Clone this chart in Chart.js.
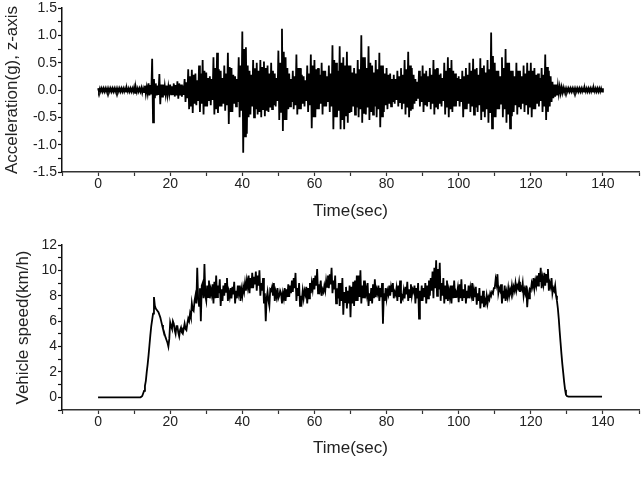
<!DOCTYPE html>
<html>
<head>
<meta charset="utf-8">
<script src="https://cdn.jsdelivr.net/npm/chart.js@4"></script>
<style>
  html, body { margin: 0; padding: 0; background: #fff; }
  #wrap { position: relative; width: 644px; height: 480px; }
  canvas { position: absolute; left: 0; }
  #acc-chart { top: 0; }
  #speed-chart { top: 230px; }
</style>
</head>
<body>
<div id="wrap">
  <canvas id="acc-chart" width="644" height="230"></canvas>
  <canvas id="speed-chart" width="644" height="250"></canvas>
</div>
<script>
/* sampling: four values per second (0.25 s), from 0 s to 140 s */
const sampleStep = 0.25;

/* z-axis acceleration (g); one line = one second */
const accel = [
  0.03,-0.03,0.03,-0.03, 0.03,-0.03,0.03,-0.03, 0.03,-0.03,0.03,-0.03, 0.03,-0.03,0.03,-0.03, // 0-3
  0.03,-0.03,0.03,-0.03, 0.03,-0.03,0.03,-0.03, 0.03,-0.03,0.03,-0.03, 0.03,-0.03,0.03,-0.03, // 4-7
  0.03,-0.03,0.03,-0.03, 0.03,-0.03,0.03,-0.03, 0.05,-0.05,0.04,-0.04, 0.03,-0.03,0.03,-0.03, // 8-11
  0.04,-0.05,0.03,-0.04,  // 12
  0.08,-0.07,0.05,-0.06,  // 13
  0.12,-0.10,0.09,-0.08,  // 14
  0.57,-0.59,0.20,-0.15,  // 15
  0.12,-0.10,0.08,-0.09,  // 16
  0.29,-0.26,0.10,-0.12,  // 17
  0.10,-0.10,0.07,-0.08,  // 18
  0.08,-0.09,0.06,-0.07,  // 19
  0.10,-0.08,0.07,-0.09,  // 20
  0.12,-0.12,0.09,-0.10,  // 21
  0.16,-0.16,0.12,-0.10,  // 22
  0.10,-0.12,0.08,-0.09,  // 23
  0.20,-0.22,0.14,-0.15,  // 24
  0.38,-0.35,0.25,-0.30,  // 25
  0.37,-0.42,0.28,-0.25,  // 26
  0.30,-0.28,0.18,-0.20,  // 27
  0.45,-0.40,0.30,-0.25,  // 28
  0.55,-0.45,0.35,-0.30,  // 29
  0.32,-0.30,0.22,-0.20,  // 30
  0.25,-0.28,0.20,-0.18,  // 31
  0.60,-0.45,0.40,-0.35,  // 32
  0.68,-0.42,0.38,-0.30,  // 33
  0.35,-0.30,0.22,-0.25,  // 34
  0.45,-0.38,0.30,-0.28,  // 35
  0.68,-0.62,0.42,-0.40,  // 36
  0.40,-0.40,0.28,-0.25,  // 37
  0.25,-0.30,0.20,-0.22,  // 38
  0.60,-0.50,0.45,-0.38,  // 39
  1.07,-1.15,0.75,-0.85,  // 40
  0.78,-0.80,0.45,-0.50,  // 41
  0.35,-0.45,0.28,-0.30,  // 42
  0.55,-0.50,0.40,-0.35,  // 43
  0.50,-0.45,0.35,-0.40,  // 44
  0.55,-0.50,0.42,-0.35,  // 45
  0.52,-0.48,0.40,-0.38,  // 46
  0.45,-0.40,0.30,-0.32,  // 47
  0.50,-0.35,0.35,-0.28,  // 48
  0.30,-0.30,0.22,-0.20,  // 49
  0.72,-0.55,0.50,-0.40,  // 50
  1.12,-0.75,0.70,-0.55,  // 51
  0.60,-0.55,0.40,-0.35,  // 52
  0.30,-0.30,0.20,-0.22,  // 53
  0.35,-0.35,0.25,-0.28,  // 54
  0.65,-0.45,0.40,-0.35,  // 55
  0.40,-0.35,0.28,-0.25,  // 56
  0.25,-0.30,0.18,-0.20,  // 57
  0.45,-0.40,0.30,-0.28,  // 58
  0.65,-0.70,0.45,-0.50,  // 59
  0.55,-0.50,0.38,-0.35,  // 60
  0.40,-0.35,0.28,-0.25,  // 61
  0.50,-0.45,0.35,-0.30,  // 62
  0.35,-0.30,0.25,-0.22,  // 63
  0.45,-0.40,0.30,-0.30,  // 64
  0.82,-0.72,0.55,-0.50,  // 65
  0.50,-0.50,0.35,-0.38,  // 66
  0.80,-0.72,0.50,-0.55,  // 67
  0.60,-0.72,0.45,-0.48,  // 68
  0.70,-0.60,0.45,-0.42,  // 69
  0.45,-0.40,0.32,-0.30,  // 70
  0.40,-0.45,0.30,-0.32,  // 71
  0.55,-0.50,0.38,-0.35,  // 72
  1.00,-0.60,0.60,-0.42,  // 73
  0.60,-0.45,0.40,-0.32,  // 74
  0.80,-0.55,0.50,-0.40,  // 75
  0.45,-0.45,0.32,-0.30,  // 76
  0.55,-0.50,0.38,-0.35,  // 77
  0.68,-0.68,0.45,-0.48,  // 78
  0.45,-0.40,0.30,-0.28,  // 79
  0.40,-0.35,0.28,-0.25,  // 80
  0.30,-0.30,0.20,-0.22,  // 81
  0.28,-0.25,0.20,-0.18,  // 82
  0.35,-0.30,0.25,-0.22,  // 83
  0.40,-0.35,0.28,-0.25,  // 84
  0.55,-0.45,0.38,-0.32,  // 85
  0.70,-0.50,0.45,-0.38,  // 86
  0.40,-0.35,0.28,-0.25,  // 87
  0.20,-0.20,0.15,-0.16,  // 88
  0.35,-0.30,0.25,-0.22,  // 89
  0.45,-0.40,0.30,-0.28,  // 90
  0.35,-0.30,0.25,-0.22,  // 91
  0.40,-0.35,0.28,-0.25,  // 92
  0.55,-0.45,0.38,-0.32,  // 93
  0.40,-0.35,0.28,-0.25,  // 94
  0.30,-0.30,0.22,-0.20,  // 95
  0.50,-0.45,0.35,-0.32,  // 96
  0.60,-0.50,0.40,-0.35,  // 97
  0.55,-0.40,0.35,-0.30,  // 98
  0.30,-0.30,0.22,-0.20,  // 99
  0.25,-0.30,0.20,-0.22,  // 100
  0.35,-0.50,0.25,-0.35,  // 101
  0.40,-0.35,0.28,-0.25,  // 102
  0.50,-0.40,0.35,-0.30,  // 103
  0.57,-0.45,0.38,-0.32,  // 104
  0.40,-0.40,0.28,-0.28,  // 105
  0.58,-0.55,0.40,-0.38,  // 106
  0.45,-0.50,0.32,-0.35,  // 107
  0.55,-0.60,0.38,-0.42,  // 108
  1.05,-0.70,0.62,-0.50,  // 109
  0.50,-0.50,0.35,-0.35,  // 110
  0.35,-0.35,0.25,-0.25,  // 111
  0.60,-0.50,0.40,-0.35,  // 112
  0.75,-0.60,0.50,-0.45,  // 113
  0.50,-0.70,0.35,-0.48,  // 114
  0.35,-0.40,0.25,-0.28,  // 115
  0.50,-0.45,0.35,-0.30,  // 116
  0.35,-0.35,0.25,-0.25,  // 117
  0.45,-0.40,0.30,-0.28,  // 118
  0.50,-0.45,0.35,-0.32,  // 119
  0.50,-0.50,0.35,-0.35,  // 120
  0.40,-0.35,0.28,-0.25,  // 121
  0.30,-0.30,0.22,-0.20,  // 122
  0.40,-0.40,0.28,-0.30,  // 123
  0.65,-0.55,0.42,-0.40,  // 124
  0.35,-0.30,0.25,-0.22,  // 125
  0.15,-0.15,0.10,-0.12,  // 126
  0.10,-0.10,0.08,-0.07,  // 127
  0.06,-0.06,0.05,-0.05,  // 128
  0.04,-0.04,0.03,-0.03,  // 129
  0.03,-0.03,0.03,-0.03, 0.03,-0.03,0.03,-0.03, 0.03,-0.03,0.03,-0.03, 0.03,-0.03,0.03,-0.03, // 130-133
  0.03,-0.03,0.03,-0.03, 0.03,-0.03,0.03,-0.03, 0.03,-0.03,0.03,-0.03, 0.03,-0.03,0.03,-0.03, // 134-137
  0.03,-0.03,0.03,-0.03, 0.03,-0.03,0.03,-0.03, // 138-139
  0.03                                          // 140
];

/* vehicle speed (km/h); one line = one second */
const speed = [
  0,0,0,0, 0,0,0,0, 0,0,0,0, 0,0,0,0, 0,0,0,0, 0,0,0,0,   // 0-5
  0,0,0,0, 0,0,0,0, 0,0,0,0, 0,0,0,0, 0,0,0,0, 0,0,0,0,   // 6-11
  0.05,0.1,0.3,0.5,   // 12
  0.9,1.3,2.0,2.6,    // 13
  3.3,4.1,4.9,5.6,    // 14
  6.1,6.6,7.9,7.2,    // 15
  7.0,6.9,6.8,6.7,    // 16
  6.5,6.3,6.0,5.7,    // 17
  5.4,5.2,4.9,4.7,    // 18
  4.5,4.3,4.0,4.6,    // 19
  5.9,5.6,5.4,6.0,    // 20
  5.8,5.3,5.0,5.6,    // 21
  5.6,5.1,4.8,5.3,    // 22
  5.5,5.1,5.0,5.4,    // 23
  5.8,5.4,5.3,5.8,    // 24
  6.2,6.0,6.6,6.3,    // 25
  7.4,6.9,6.8,7.6,    // 26
  8.0,7.4,10.2,7.8,   // 27
  7.2,8.6,6.0,8.8,    // 28
  9.0,7.8,10.5,8.0,   // 29
  7.6,8.8,7.9,9.2,    // 30
  7.8,8.5,8.1,8.9,    // 31
  7.4,9.1,7.8,9.6,    // 32
  7.9,8.8,8.2,9.3,    // 33
  7.2,8.5,7.6,8.8,    // 34
  8.0,9.0,8.3,9.4,    // 35
  7.6,8.3,7.9,8.6,    // 36
  7.8,8.7,8.1,9.1,    // 37
  7.4,8.4,7.8,8.8,    // 38
  8.2,8.8,7.6,8.5,    // 39
  8.0,8.7,8.3,9.0,    // 40
  8.4,9.2,8.7,9.6,    // 41
  8.2,9.4,8.6,9.8,    // 42
  8.6,9.5,8.9,9.9,    // 43
  8.4,9.6,8.8,10.0,   // 44
  8.0,9.0,8.4,9.4,    // 45
  7.4,8.2,6.0,7.8,    // 46
  8.3,7.6,7.2,8.5,    // 47
  8.4,8.7,8.0,9.0,    // 48
  7.6,8.3,7.9,8.6,    // 49
  7.8,8.0,8.4,8.2,    // 50
  7.4,8.2,7.8,8.6,    // 51
  7.6,8.5,7.9,8.9,    // 52
  7.9,8.8,8.2,9.2,    // 53
  8.3,9.4,8.6,9.8,    // 54
  7.6,8.6,8.0,9.0,    // 55
  7.2,8.0,7.6,8.4,    // 56
  7.8,8.4,8.1,8.7,    // 57
  7.4,8.6,7.8,9.0,    // 58
  8.2,9.0,8.5,9.4,    // 59
  8.5,9.6,8.8,10.1,   // 60
  8.2,8.9,8.5,9.2,    // 61
  8.0,8.5,8.3,8.8,    // 62
  8.4,9.2,8.7,9.6,    // 63
  8.6,9.7,8.9,10.2,   // 64
  8.2,9.2,8.5,9.6,    // 65
  7.4,8.6,7.8,9.0,    // 66
  7.2,9.0,7.6,9.4,    // 67
  6.5,8.3,7.5,8.7,    // 68
  7.0,8.4,7.4,8.8,    // 69
  6.3,8.7,7.4,9.1,    // 70
  7.2,9.2,7.6,9.6,    // 71
  7.6,9.6,7.9,10.0,   // 72
  7.4,8.8,7.8,9.2,    // 73
  7.8,8.6,8.1,9.0,    // 74
  7.2,8.2,7.6,8.6,    // 75
  7.4,8.9,7.8,9.3,    // 76
  7.9,8.5,8.2,8.8,    // 77
  7.6,8.6,7.9,9.0,    // 78
  5.8,8.2,7.6,8.6,    // 79
  7.8,8.4,8.1,8.8,    // 80
  8.0,8.7,8.3,9.0,    // 81
  7.8,8.3,8.1,8.6,    // 82
  7.6,8.8,7.9,9.2,    // 83
  7.4,8.0,7.8,8.4,    // 84
  7.8,8.7,8.1,9.1,    // 85
  7.6,8.5,7.9,8.9,    // 86
  8.0,8.5,8.3,8.8,    // 87
  7.4,8.6,7.8,9.0,    // 88
  6.2,8.4,7.6,8.8,    // 89
  7.6,8.6,7.9,9.0,    // 90
  7.4,8.8,7.8,9.2,    // 91
  8.0,9.4,8.4,9.9,    // 92
  7.8,10.2,8.6,10.8,  // 93
  8.0,10.1,8.5,10.6,  // 94
  7.6,9.0,8.0,9.4,    // 95
  7.4,8.8,7.8,9.2,    // 96
  7.6,8.4,7.9,8.8,    // 97
  7.4,8.8,7.8,9.2,    // 98
  7.9,8.3,8.1,8.6,    // 99
  7.5,8.9,7.8,9.3,    // 100
  7.6,8.5,7.9,8.9,    // 101
  7.4,8.4,7.8,8.8,    // 102
  7.8,8.6,8.1,9.0,    // 103
  7.6,8.4,7.9,8.7,    // 104
  7.3,8.2,7.6,8.6,    // 105
  7.0,8.0,7.4,8.4,    // 106
  7.1,7.7,7.4,8.0,    // 107
  7.4,7.9,7.7,8.2,    // 108
  8.0,8.3,8.2,8.6,    // 109
  8.6,9.3,8.9,9.7,    // 110
  8.2,8.6,8.4,8.9,    // 111
  7.4,8.4,7.8,8.8,    // 112
  7.6,8.3,7.9,8.6,    // 113
  8.0,8.5,8.2,8.8,    // 114
  8.2,8.7,8.4,9.0,    // 115
  8.4,8.8,8.6,9.1,    // 116
  8.3,8.7,8.5,9.0,    // 117
  8.0,8.5,8.2,8.8,    // 118
  7.1,8.2,7.8,8.5,    // 119
  8.4,9.0,8.7,9.4,    // 120
  8.6,9.2,8.8,9.6,    // 121
  8.8,9.8,9.1,10.2,   // 122
  8.6,9.4,8.9,9.8,    // 123
  8.8,9.7,9.1,10.1,   // 124
  8.4,9.0,8.7,9.4,    // 125
  8.2,8.6,8.4,8.8,    // 126
  8.0,7.6,7.0,6.2,    // 127
  5.2,4.3,3.4,2.6,    // 128
  1.9,1.2,0.6,0.2,    // 129
  0.1,0.08,0.06,0.05, // 130
  0.05,0.05,0.05,0.05, 0.05,0.05,0.05,0.05, 0.05,0.05,0.05,0.05, // 131-133
  0.05,0.05,0.05,0.05, 0.05,0.05,0.05,0.05, 0.05,0.05,0.05,0.05, // 134-136
  0.05,0.05,0.05,0.05, 0.05,0.05,0.05,0.05, 0.05,0.05,0.05,0.05, // 137-139
  0.05                                                           // 140
];

/* axis ticks */
const timeTicks  = [0, 20, 40, 60, 80, 100, 120, 140];
const accelTicks = [-1.5, -1.0, -0.5, 0.0, 0.5, 1.0, 1.5];
const speedTicks = [0, 2, 4, 6, 8, 10, 12];

const FONT = "'Liberation Sans', Arial, sans-serif";
const INK  = '#222';

function toPoints(values) {
  return values.map((v, i) => ({ x: i * sampleStep, y: v }));
}

function isMajor(v, list) {
  return list.some(t => Math.abs(t - v) < 1e-6);
}

/* ── shared axis look ───────────────────────────────────────── */
function xAxis(height, titlePad) {
  return {
    type: 'linear', min: -10, max: 150,
    afterFit: s => { s.height = height; },
    border: { display: true, color: '#333', width: 1.5 },
    grid: { drawOnChartArea: false, drawTicks: true, tickLength: 4, color: '#333', tickWidth: 1.2 },
    ticks: {
      stepSize: 10, autoSkip: false, maxRotation: 0, padding: 1,
      color: INK, font: { family: FONT, size: 14, lineHeight: 1 },
      callback: v => isMajor(v, timeTicks) ? String(v) : ''
    },
    title: {
      display: true, text: 'Time(sec)', color: INK,
      font: { family: FONT, size: 17 },
      padding: { top: 0, bottom: titlePad }
    }
  };
}

function yAxis(min, max, step, major, fmt, title, titlePad) {
  return {
    type: 'linear', min: min, max: max,
    afterFit: s => { s.width = 62; },
    border: { display: true, color: '#111', width: 1.5 },
    grid: { drawOnChartArea: false, drawTicks: true, tickLength: 4, color: '#111', tickWidth: 1.2 },
    ticks: {
      stepSize: step, autoSkip: false, padding: 1,
      color: INK, font: { family: FONT, size: 14, lineHeight: 1 },
      callback: v => isMajor(v, major) ? fmt(v) : ''
    },
    title: {
      display: true, text: title, color: INK,
      font: { family: FONT, size: 17 },
      padding: { top: titlePad, bottom: 0 }
    }
  };
}

function baseOptions(top, xHeight, xTitlePad, y) {
  return {
    responsive: false,
    animation: false,
    events: [],
    layout: { padding: { top: top, right: 5, left: 0, bottom: 0 } },
    plugins: { legend: { display: false }, tooltip: { enabled: false } },
    scales: { x: xAxis(xHeight, xTitlePad), y: y }
  };
}

/* ── acceleration trace ─────────────────────────────────────── */
new Chart(document.getElementById('acc-chart'), {
  type: 'line',
  data: {
    datasets: [{
      data: toPoints(accel),
      borderColor: '#000',
      borderWidth: 1.8,
      pointRadius: 0,
      tension: 0
    }]
  },
  options: baseOptions(7, 58, 8,
    yAxis(-1.5, 1.5, 0.25, accelTicks, v => v.toFixed(1), 'Acceleration(g), z-axis', 2))
});

/* ── vehicle speed trace ────────────────────────────────────── */
new Chart(document.getElementById('speed-chart'), {
  type: 'line',
  data: {
    datasets: [{
      data: toPoints(speed),
      borderColor: '#000',
      borderWidth: 1.8,
      pointRadius: 0,
      tension: 0
    }]
  },
  options: baseOptions(15, 70, 21,
    yAxis(-1, 12, 1, speedTicks, v => String(v), 'Vehicle speed(km/h)', 13))
});
</script>
</body>
</html>
